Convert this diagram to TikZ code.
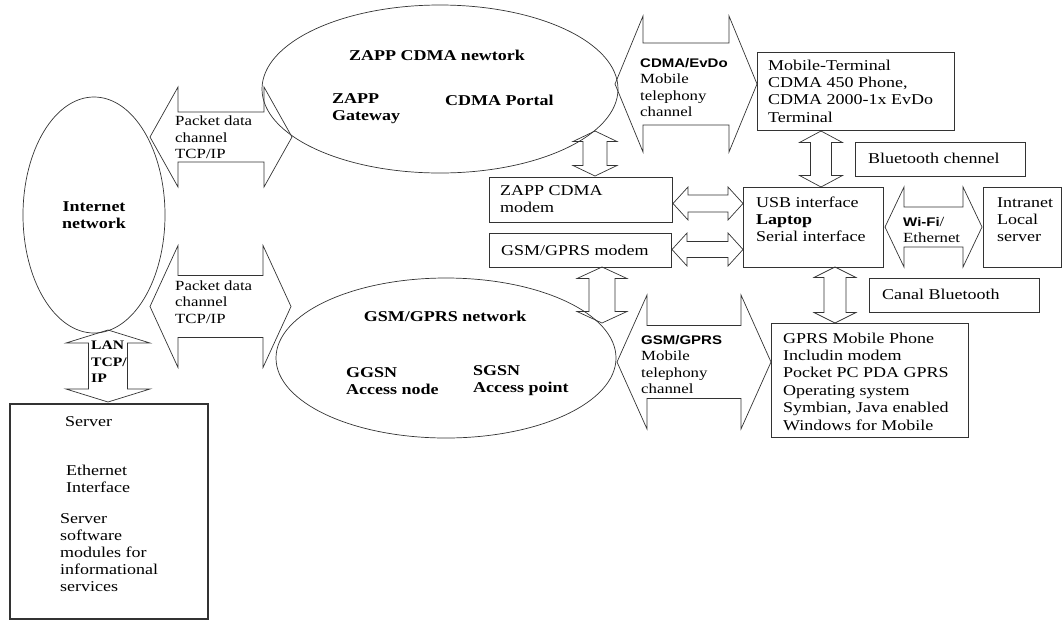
\documentclass[tikz,border=0pt]{standalone}
\usepackage{fontspec}
\setmainfont[FakeStretch=1.2]{Liberation Serif}
\setsansfont[FakeStretch=1.2]{Liberation Sans}
\usetikzlibrary{shapes.geometric}

% fat double arrows: tip, tip, centre line, head length, head half width, shaft half width
\newcommand{\fatharrow}[6]{%
  \draw[fat] (#1,#3) -- (#1+#4,#3-#5) -- (#1+#4,#3-#6) -- (#2-#4,#3-#6) -- (#2-#4,#3-#5) -- (#2,#3)
    -- (#2-#4,#3+#5) -- (#2-#4,#3+#6) -- (#1+#4,#3+#6) -- (#1+#4,#3+#5) -- cycle;}
\newcommand{\fatvarrow}[6]{%
  \draw[fat] (#3,#1) -- (#3+#5,#1+#4) -- (#3+#6,#1+#4) -- (#3+#6,#2-#4) -- (#3+#5,#2-#4) -- (#3,#2)
    -- (#3-#5,#2-#4) -- (#3-#6,#2-#4) -- (#3-#6,#1+#4) -- (#3-#5,#1+#4) -- cycle;}
\newcommand{\chanhd}{\fontsize{12.5}{16.5}\selectfont\sffamily\bfseries}

\tikzset{
  fat/.style={draw=black!80, line width=0.7pt},
  box/.style={draw=black!80, line width=0.7pt, inner sep=0pt, anchor=north west},
  net/.style={draw=black!80, line width=0.7pt, ellipse, inner sep=0pt},
  txt/.style={inner sep=0pt, anchor=west, align=left, font=\fontsize{15}{17}\selectfont},
  chan/.style={inner sep=0pt, anchor=west, align=left, font=\fontsize{14}{16.5}\selectfont},
  hd/.style={inner sep=0pt, align=left, font=\fontsize{15}{17}\selectfont\bfseries},
}

\begin{document}
\begin{tikzpicture}[x=1pt,y=-1pt]
\useasboundingbox (0,0) rectangle (1064,619);

% networks
\node[net, minimum width=142, minimum height=236, hd, align=center] (inet) at (94,215) {Internet\\network};
\node[net, minimum width=356, minimum height=168] (zapp) at (440,89) {};
\node[net, minimum width=340, minimum height=160] (gsm) at (446,358) {};

\node[hd] (zapptitle) at (437,55) {ZAPP CDMA newtork};
\node[hd, anchor=west] (gw) at (332,108.5) {ZAPP\\Gateway};
\node[hd, anchor=west] (portal) at (445,100) {CDMA Portal};
\node[hd] (gsmtitle) at (445,316) {GSM/GPRS network};
\node[hd, anchor=west] (ggsn) at (346,381) {GGSN\\Access node};
\node[hd, anchor=west] (sgsn) at (473,381) {SGSN\\Access point};

% boxes
\node[box, line width=1.6pt, minimum width=198, minimum height=215] (server) at (9,403) {};
\node[box, minimum width=197, minimum height=78] (mt) at (757,52) {};
\node[box, minimum width=170, minimum height=34] (bt1) at (855,142) {};
\node[box, minimum width=183, minimum height=45] (zmod) at (489,177) {};
\node[box, minimum width=182, minimum height=34] (gmod) at (489,233) {};
\node[box, minimum width=140, minimum height=80] (lap) at (743,187) {};
\node[box, minimum width=78, minimum height=80] (intra) at (983,187) {};
\node[box, minimum width=170, minimum height=34] (bt2) at (869,278) {};
\node[box, minimum width=197, minimum height=114] (gprs) at (771,323) {};

% box texts
\node[txt] (srv1) at (65,422) {Server};
\node[txt] (srv2) at (66,478.5) {Ethernet\\Interface};
\node[txt] (srv3) at (60,552.5) {Server\\software\\modules for\\informational\\services};
\node[txt, font=\fontsize{15}{17.3}\selectfont] (mttxt) at (768,91) {Mobile-Terminal\\CDMA 450 Phone,\\CDMA 2000-1x EvDo\\Terminal};
\node[txt] (bt1txt) at (868,158) {Bluetooth chennel};
\node[txt] (zmodtxt) at (500,199) {ZAPP CDMA\\modem};
\node[txt] (gmodtxt) at (501,250) {GSM/GPRS modem};
\node[txt] (laptxt) at (756,219.5) {USB interface\\\textbf{Laptop}\\Serial interface};
\node[txt] (intratxt) at (997,220) {Intranet\\Local\\server};
\node[txt] (bt2txt) at (882,294) {Canal Bluetooth};
\node[txt, font=\fontsize{15}{17.4}\selectfont] (gprstxt) at (783,381.5) {GPRS Mobile Phone\\Includin modem\\Pocket PC PDA GPRS\\Operating system\\Symbian, Java enabled\\Windows for Mobile};

% channels
\fatharrow{150}{292}{137}{28}{50}{25}
\fatharrow{150}{291}{306.5}{28}{61}{31}
\fatvarrow{330}{402}{108}{13}{42}{19.5}
\fatharrow{615}{757}{84}{28}{68}{41}
\fatvarrow{131}{187}{821}{11.5}{21.5}{10.5}
\fatvarrow{131}{176}{595}{10.5}{22}{12}
\fatharrow{673}{743}{203.5}{15}{16.5}{8.5}
\fatharrow{672}{743}{249.5}{15}{16.5}{8}
\fatharrow{885}{982}{227}{19}{40}{20}
\fatvarrow{267}{323}{602}{11.5}{25}{13}
\fatvarrow{267}{323}{835}{10.5}{21}{11}
\fatharrow{617}{771}{362}{30}{67}{36.5}

\node[chan] (pk1) at (175,137.5) {Packet data\\channel\\TCP/IP};
\node[chan] (pk2) at (175,302) {Packet data\\channel\\TCP/IP};
\node[hd, anchor=west, font=\fontsize{13}{16.5}\selectfont\bfseries] (lan) at (91,362) {LAN\\TCP/\\IP};
\node[chan] (evdo) at (640,87.5) {{\chanhd CDMA/EvDo}\\Mobile\\telephony\\channel};
\node[chan] (gprsch) at (641,364.5) {{\chanhd GSM/GPRS}\\Mobile\\telephony\\channel};
\node[chan] (wifi) at (903,230) {{\chanhd Wi-Fi}/\\Ethernet};
\end{tikzpicture}
\end{document}
